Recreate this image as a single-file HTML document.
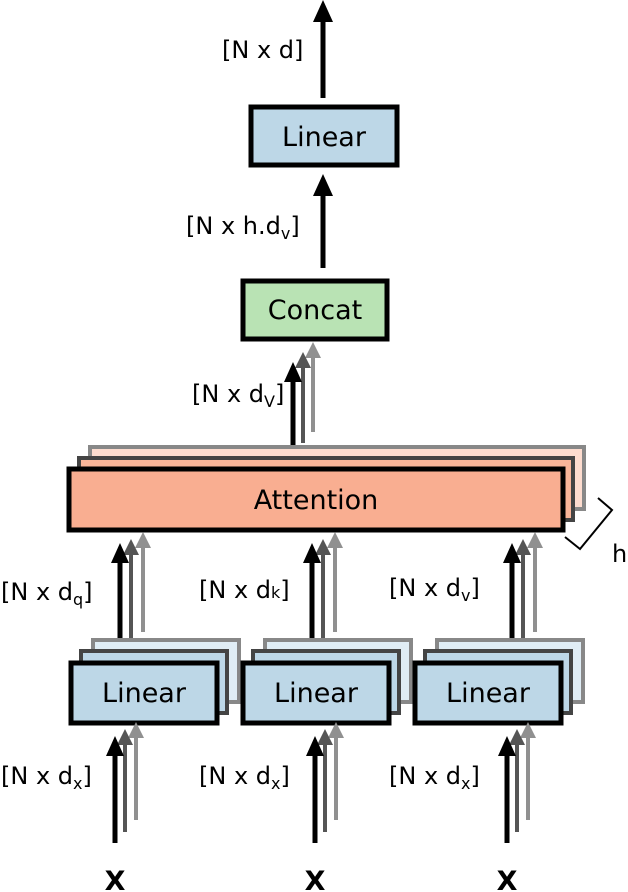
<!DOCTYPE html>
<html><head><style>body{margin:0;background:#fff}svg{display:block}text{font-family:"DejaVu Sans","Liberation Sans",sans-serif}</style></head>
<body>
<svg width="628" height="892" viewBox="0 0 628 892" xmlns="http://www.w3.org/2000/svg">
<g stroke="#000" fill="#000">
<line x1="323" y1="98" x2="323" y2="18" stroke-width="5"/><polygon points="313,22 333,22 323,0" stroke="none"/>
<line x1="323" y1="268" x2="323" y2="192" stroke-width="5"/><polygon points="313,196 333,196 323,174" stroke="none"/>
</g>
<rect x="251" y="107" width="146" height="58" fill="#bdd7e7" stroke="#000" stroke-width="5"/>
<text x="324" y="146" font-size="27" text-anchor="middle">Linear</text>
<rect x="243" y="281" width="144" height="58" fill="#b9e3b4" stroke="#000" stroke-width="5"/>
<text x="315" y="319" font-size="27" text-anchor="middle">Concat</text>
<text x="222" y="58" font-size="24">[N x d]</text>
<text x="186" y="234" font-size="24">[N x h.d<tspan font-size="16" dy="5">v</tspan><tspan dy="-5">]</tspan></text>
<g stroke-width="4">
<line x1="313" y1="432" x2="313" y2="355" stroke="#909090"/><polygon points="305,358 321,358 313,342" fill="#909090"/>
<line x1="303" y1="443" x2="303" y2="365" stroke="#555"/><polygon points="295,368 311,368 303,352" fill="#555"/>
<line x1="293" y1="455" x2="293" y2="378" stroke="#000" stroke-width="5"/><polygon points="284,382 302,382 293,362" fill="#000"/>
</g>
<text x="192" y="402" font-size="24">[N x d<tspan font-size="16" dy="5">V</tspan><tspan dy="-5">]</tspan></text>
<rect x="90" y="447" width="494" height="62" fill="#fddccf" stroke="#888" stroke-width="4"/>
<rect x="79" y="458" width="494" height="62" fill="#f9b599" stroke="#444" stroke-width="4"/>
<rect x="69" y="469" width="494" height="61" fill="#f9ae91" stroke="#000" stroke-width="5"/>
<text x="316" y="509" font-size="27" text-anchor="middle">Attention</text>
<polyline points="565,537 580,549 612,510 598,498" fill="none" stroke="#000" stroke-width="2"/>
<text x="612" y="562" font-size="24">h</text>
<g id="up">
<line x1="143" y1="632" x2="143" y2="545" stroke="#909090" stroke-width="4"/><polygon points="135,548 151,548 143,532" fill="#909090"/>
<line x1="131" y1="643" x2="131" y2="552" stroke="#555" stroke-width="4"/><polygon points="123,555 139,555 131,539" fill="#555"/>
<line x1="120" y1="655" x2="120" y2="560" stroke="#000" stroke-width="5"/><polygon points="111,563 129,563 120,543" fill="#000"/>
</g>
<use href="#up" x="192"/>
<use href="#up" x="392"/>
<g id="box">
<rect x="93" y="640" width="146" height="62" fill="#e0edf5" stroke="#888" stroke-width="4"/>
<rect x="81" y="651" width="146" height="62" fill="#bdd7e7" stroke="#444" stroke-width="4"/>
<rect x="71" y="663" width="146" height="60" fill="#bdd7e7" stroke="#000" stroke-width="5"/>
<text x="144" y="702" font-size="27" text-anchor="middle">Linear</text>
</g>
<use href="#box" x="172"/>
<use href="#box" x="344"/>
<g id="in">
<line x1="136" y1="820" x2="136" y2="735" stroke="#909090" stroke-width="4"/><polygon points="128,738 144,738 136,722" fill="#909090"/>
<line x1="125" y1="832" x2="125" y2="742" stroke="#555" stroke-width="4"/><polygon points="117,745 133,745 125,729" fill="#555"/>
<line x1="115" y1="843" x2="115" y2="752" stroke="#000" stroke-width="5"/><polygon points="106,756 124,756 115,736" fill="#000"/>
<text x="115" y="890" font-size="27" font-weight="bold" text-anchor="middle" font-family="Liberation Sans">X</text>
</g>
<use href="#in" x="200"/>
<use href="#in" x="392"/>
<text x="1" y="600" font-size="24">[N x d<tspan font-size="16" dy="5">q</tspan><tspan dy="-5">]</tspan></text>
<text x="199" y="598" font-size="24">[N x d<tspan font-size="16">k</tspan>]</text>
<text x="389" y="596" font-size="24">[N x d<tspan font-size="16" dy="5">v</tspan><tspan dy="-5">]</tspan></text>
<text x="1" y="784" font-size="24">[N x d<tspan font-size="16" dy="5">x</tspan><tspan dy="-5">]</tspan></text>
<text x="199" y="784" font-size="24">[N x d<tspan font-size="16" dy="5">x</tspan><tspan dy="-5">]</tspan></text>
<text x="389" y="784" font-size="24">[N x d<tspan font-size="16" dy="5">x</tspan><tspan dy="-5">]</tspan></text>
</svg>
</body></html>
